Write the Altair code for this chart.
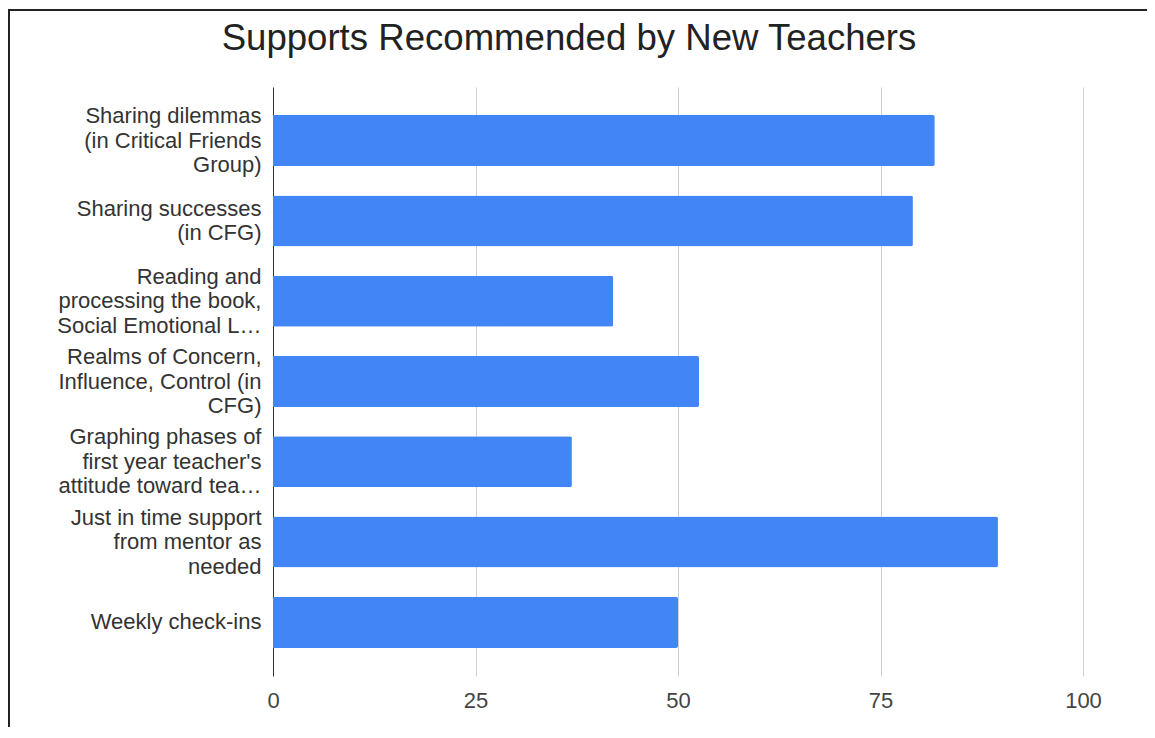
import altair as alt
import pandas as pd

title_text = "Supports Recommended by New Teachers"

categories = [
    "Sharing dilemmas\n(in Critical Friends\nGroup)",
    "Sharing successes\n(in CFG)",
    "Reading and\nprocessing the book,\nSocial Emotional L…",
    "Realms of Concern,\nInfluence, Control (in\nCFG)",
    "Graphing phases of\nfirst year teacher's\nattitude toward tea…",
    "Just in time support\nfrom mentor as\nneeded",
    "Weekly check-ins",
]
values = [81.7, 79.0, 42.0, 52.6, 36.9, 89.5, 50.0]
x_ticks = [0, 25, 50, 75, 100]

df = pd.DataFrame({"support": categories, "value": values})

FONT = "Liberation Sans"
LINE_H = 24.5

label_offset = {
    "condition": [
        {"test": "length(split(datum.label, '\\n')) == 3", "value": -LINE_H},
        {"test": "length(split(datum.label, '\\n')) == 2", "value": -LINE_H / 2},
    ],
    "value": 0,
}

bars = alt.Chart(df).mark_bar(color="#4285F4", cornerRadiusEnd=2).encode(
    x=alt.X(
        "value:Q",
        scale=alt.Scale(domain=[0, 100], nice=False),
        axis=alt.Axis(
            values=x_ticks,
            title=None,
            domain=False,
            ticks=False,
            grid=True,
            gridColor="#d0d0d0",
            gridWidth=1,
            labelFont=FONT,
            labelFontSize=22,
            labelColor="#444444",
            labelPadding=14,
            labelFlush=False,
        ),
    ),
    y=alt.Y(
        "support:N",
        sort=None,
        scale=alt.Scale(paddingInner=0.365, paddingOuter=0.35),
        axis=alt.Axis(
            title=None,
            domain=True,
            domainColor="#333333",
            domainWidth=1,
            ticks=False,
            grid=False,
            labelFont=FONT,
            labelFontSize=22,
            labelColor="#333333",
            labelPadding=12,
            labelLineHeight=LINE_H,
            labelLimit=400,
            labelOffset=label_offset,
            labelExpr="split(datum.label, '\\n')",
        ),
    ),
)

frame_left = alt.Chart(df).mark_rule(color="#222222", strokeWidth=2, clip=False).encode(
    x=alt.value(-264), y=alt.value(-77), y2=alt.value(640)
)
frame_top = alt.Chart(df).mark_rule(color="#222222", strokeWidth=2, clip=False).encode(
    x=alt.value(-265), x2=alt.value(874), y=alt.value(-77)
)

chart = (
    alt.layer(frame_left, frame_top, bars)
    .properties(
        width=810,
        height=589,
        background="white",
        autosize=alt.AutoSizeParams(type="none"),
        padding={"left": 265, "top": 79, "right": 64, "bottom": 54},
        title=alt.TitleParams(
            text=title_text,
            font=FONT,
            fontSize=36.6,
            fontWeight="normal",
            color="#222222",
            anchor="middle",
            frame="group",
            dx=-109,
            dy=78,
            baseline="alphabetic",
            offset=0,
        ),
    )
    .configure_view(strokeWidth=0, stroke="transparent")
)

chart.save("out.html", embed_options={"renderer": "svg", "actions": False})
